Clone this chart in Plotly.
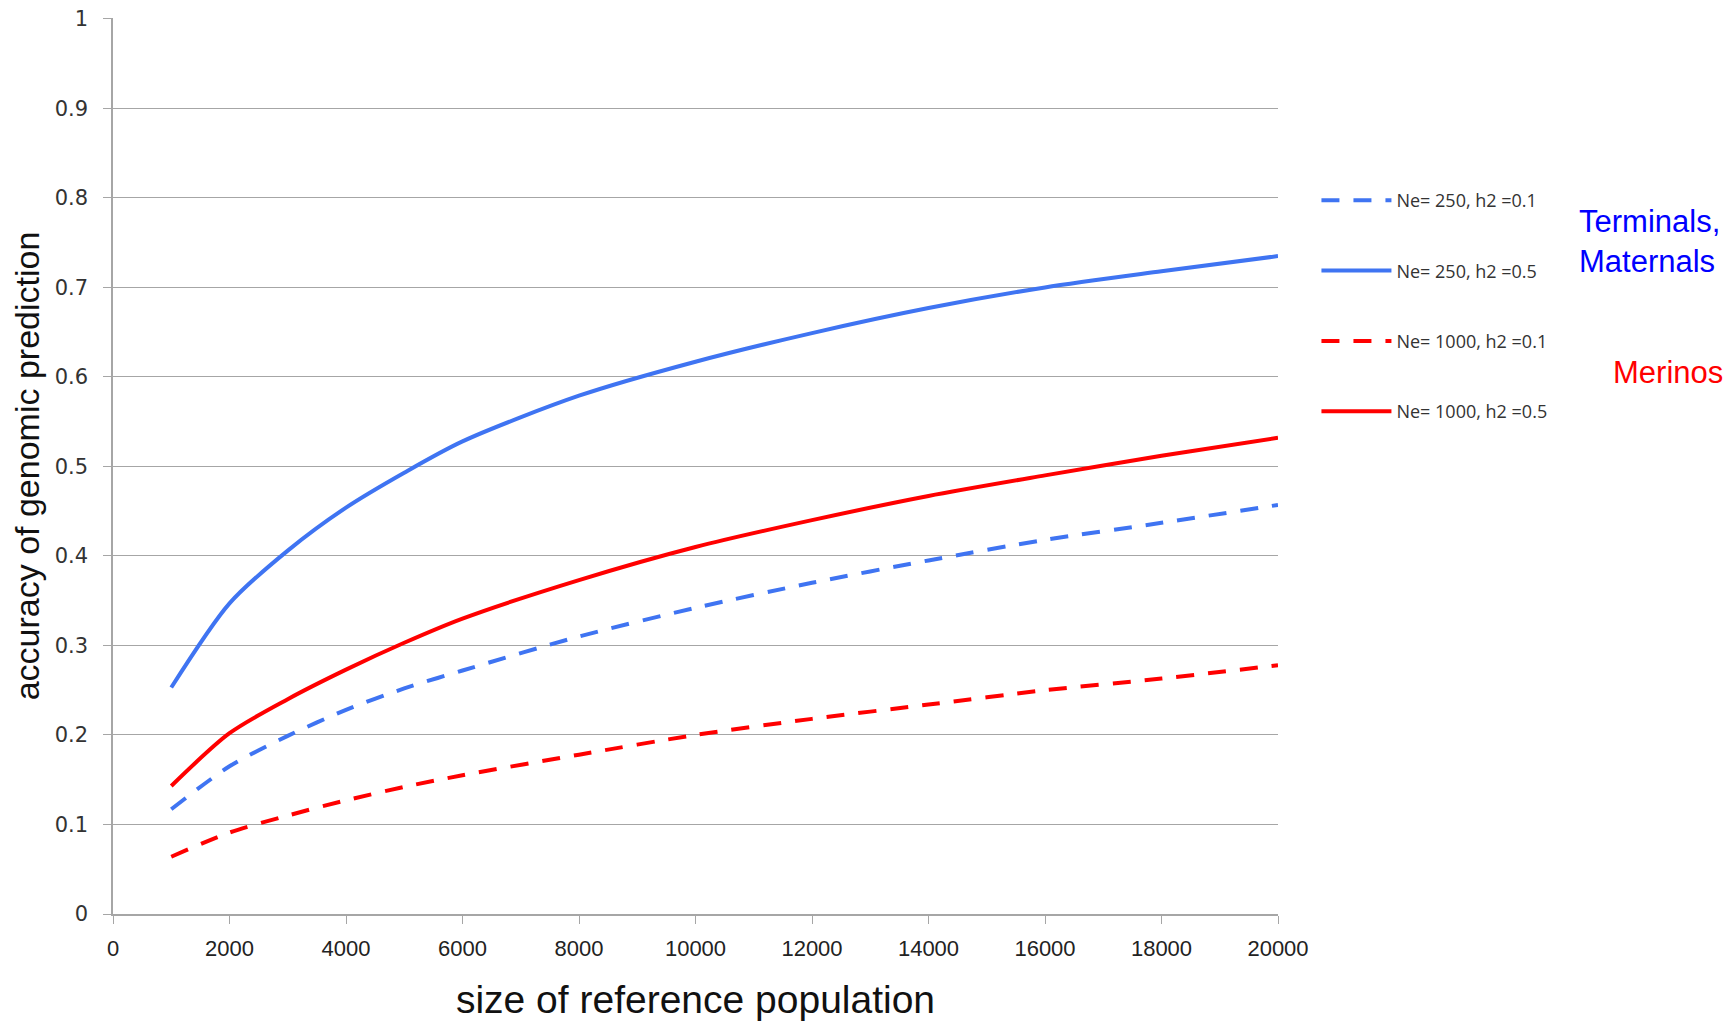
import plotly.graph_objects as go

ref_size = [1000, 2000, 3000, 4000, 5000, 6000, 8000, 10000, 12000, 14000, 16000, 18000, 20000]
ne250_h01 = [0.117, 0.165, 0.199, 0.228, 0.252, 0.272, 0.310, 0.342, 0.370, 0.395, 0.418, 0.437, 0.457]
ne250_h05 = [0.253, 0.347, 0.406, 0.454, 0.493, 0.528, 0.579, 0.617, 0.649, 0.677, 0.700, 0.718, 0.735]
ne1000_h01 = [0.064, 0.091, 0.110, 0.127, 0.142, 0.155, 0.178, 0.200, 0.218, 0.234, 0.250, 0.263, 0.278]
ne1000_h05 = [0.143, 0.202, 0.240, 0.273, 0.303, 0.330, 0.373, 0.410, 0.440, 0.467, 0.490, 0.512, 0.532]

series_names = ["Ne= 250, h2 =0.1", "Ne= 250, h2 =0.5", "Ne= 1000, h2 =0.1", "Ne= 1000, h2 =0.5"]
x_ticks = list(range(0, 20001, 2000))
y_ticks = [0, 0.1, 0.2, 0.3, 0.4, 0.5, 0.6, 0.7, 0.8, 0.9, 1]
y_tick_text = ["0", "0.1", "0.2", "0.3", "0.4", "0.5", "0.6", "0.7", "0.8", "0.9", "1"]

BLUE = "#3f74f2"
RED = "#ff0000"
styles = [(BLUE, "18px,14px"), (BLUE, "solid"), (RED, "18px,14px"), (RED, "solid")]
data = [ne250_h01, ne250_h05, ne1000_h01, ne1000_h05]

fig = go.Figure()
for i, (name, ys, (col, dash)) in enumerate(zip(series_names, data, styles)):
    fig.add_trace(go.Scatter(
        x=ref_size, y=ys, mode="lines", name=name,
        line=dict(color=col, width=4, dash=dash, shape="spline", smoothing=0.8),
        legendgroup=f"g{i}",
    ))

fig.update_layout(
    width=1735, height=1021,
    margin=dict(l=105, r=465, t=10, b=115, autoexpand=False),
    plot_bgcolor="white", paper_bgcolor="white",
    showlegend=True,
    legend=dict(
        x=1.033, xanchor="left", y=0.817, yanchor="top",
        font=dict(family="Open Sans, Liberation Sans", size=18, color="#333333"),
        tracegroupgap=44, itemwidth=70, bgcolor="rgba(0,0,0,0)",
    ),
    xaxis=dict(
        range=[0, 20000], tickvals=x_ticks, ticktext=[str(v) for v in x_ticks],
        showgrid=False, showline=True, linecolor="#a6a6a6", linewidth=1.5,
        ticks="outside", ticklen=8, tickcolor="#a6a6a6", zeroline=False, automargin=False,
        tickfont=dict(family="Liberation Sans Narrow, Liberation Sans", size=22, color="#222222"),
        ticklabelstandoff=6, ticklabeloverflow="allow",
        title=dict(text="size of reference population", standoff=26,
                   font=dict(family="Liberation Sans Narrow, Liberation Sans", size=39, color="#111111")),
    ),
    yaxis=dict(
        range=[0, 1.001], tickvals=y_ticks, ticktext=y_tick_text,
        showgrid=True, gridcolor="#a6a6a6", gridwidth=1,
        showline=True, linecolor="#a6a6a6", linewidth=1.5,
        ticks="outside", ticklen=8, tickcolor="#a6a6a6", zeroline=False, automargin=False,
        tickfont=dict(family="DejaVu Sans, Verdana", size=21, color="#333333"),
        ticklabelstandoff=11, ticklabeloverflow="allow",
        title=dict(text="accuracy of genomic prediction", standoff=8,
                   font=dict(family="Liberation Sans Narrow, Liberation Sans", size=34, color="#111111")),
    ),
    annotations=[
        dict(text="Terminals,<br>Maternals", xref="paper", yref="paper",
             x=1.257, y=0.795, xanchor="left", yanchor="top", showarrow=False, align="left",
             font=dict(family="Liberation Sans, Arial", size=31, color="#0000ff")),
        dict(text="Merinos", xref="paper", yref="paper",
             x=1.286, y=0.604, xanchor="left", yanchor="middle", showarrow=False, align="left",
             font=dict(family="Liberation Sans, Arial", size=31, color="#ff0000")),
    ],
)

fig.write_html("out.html")
